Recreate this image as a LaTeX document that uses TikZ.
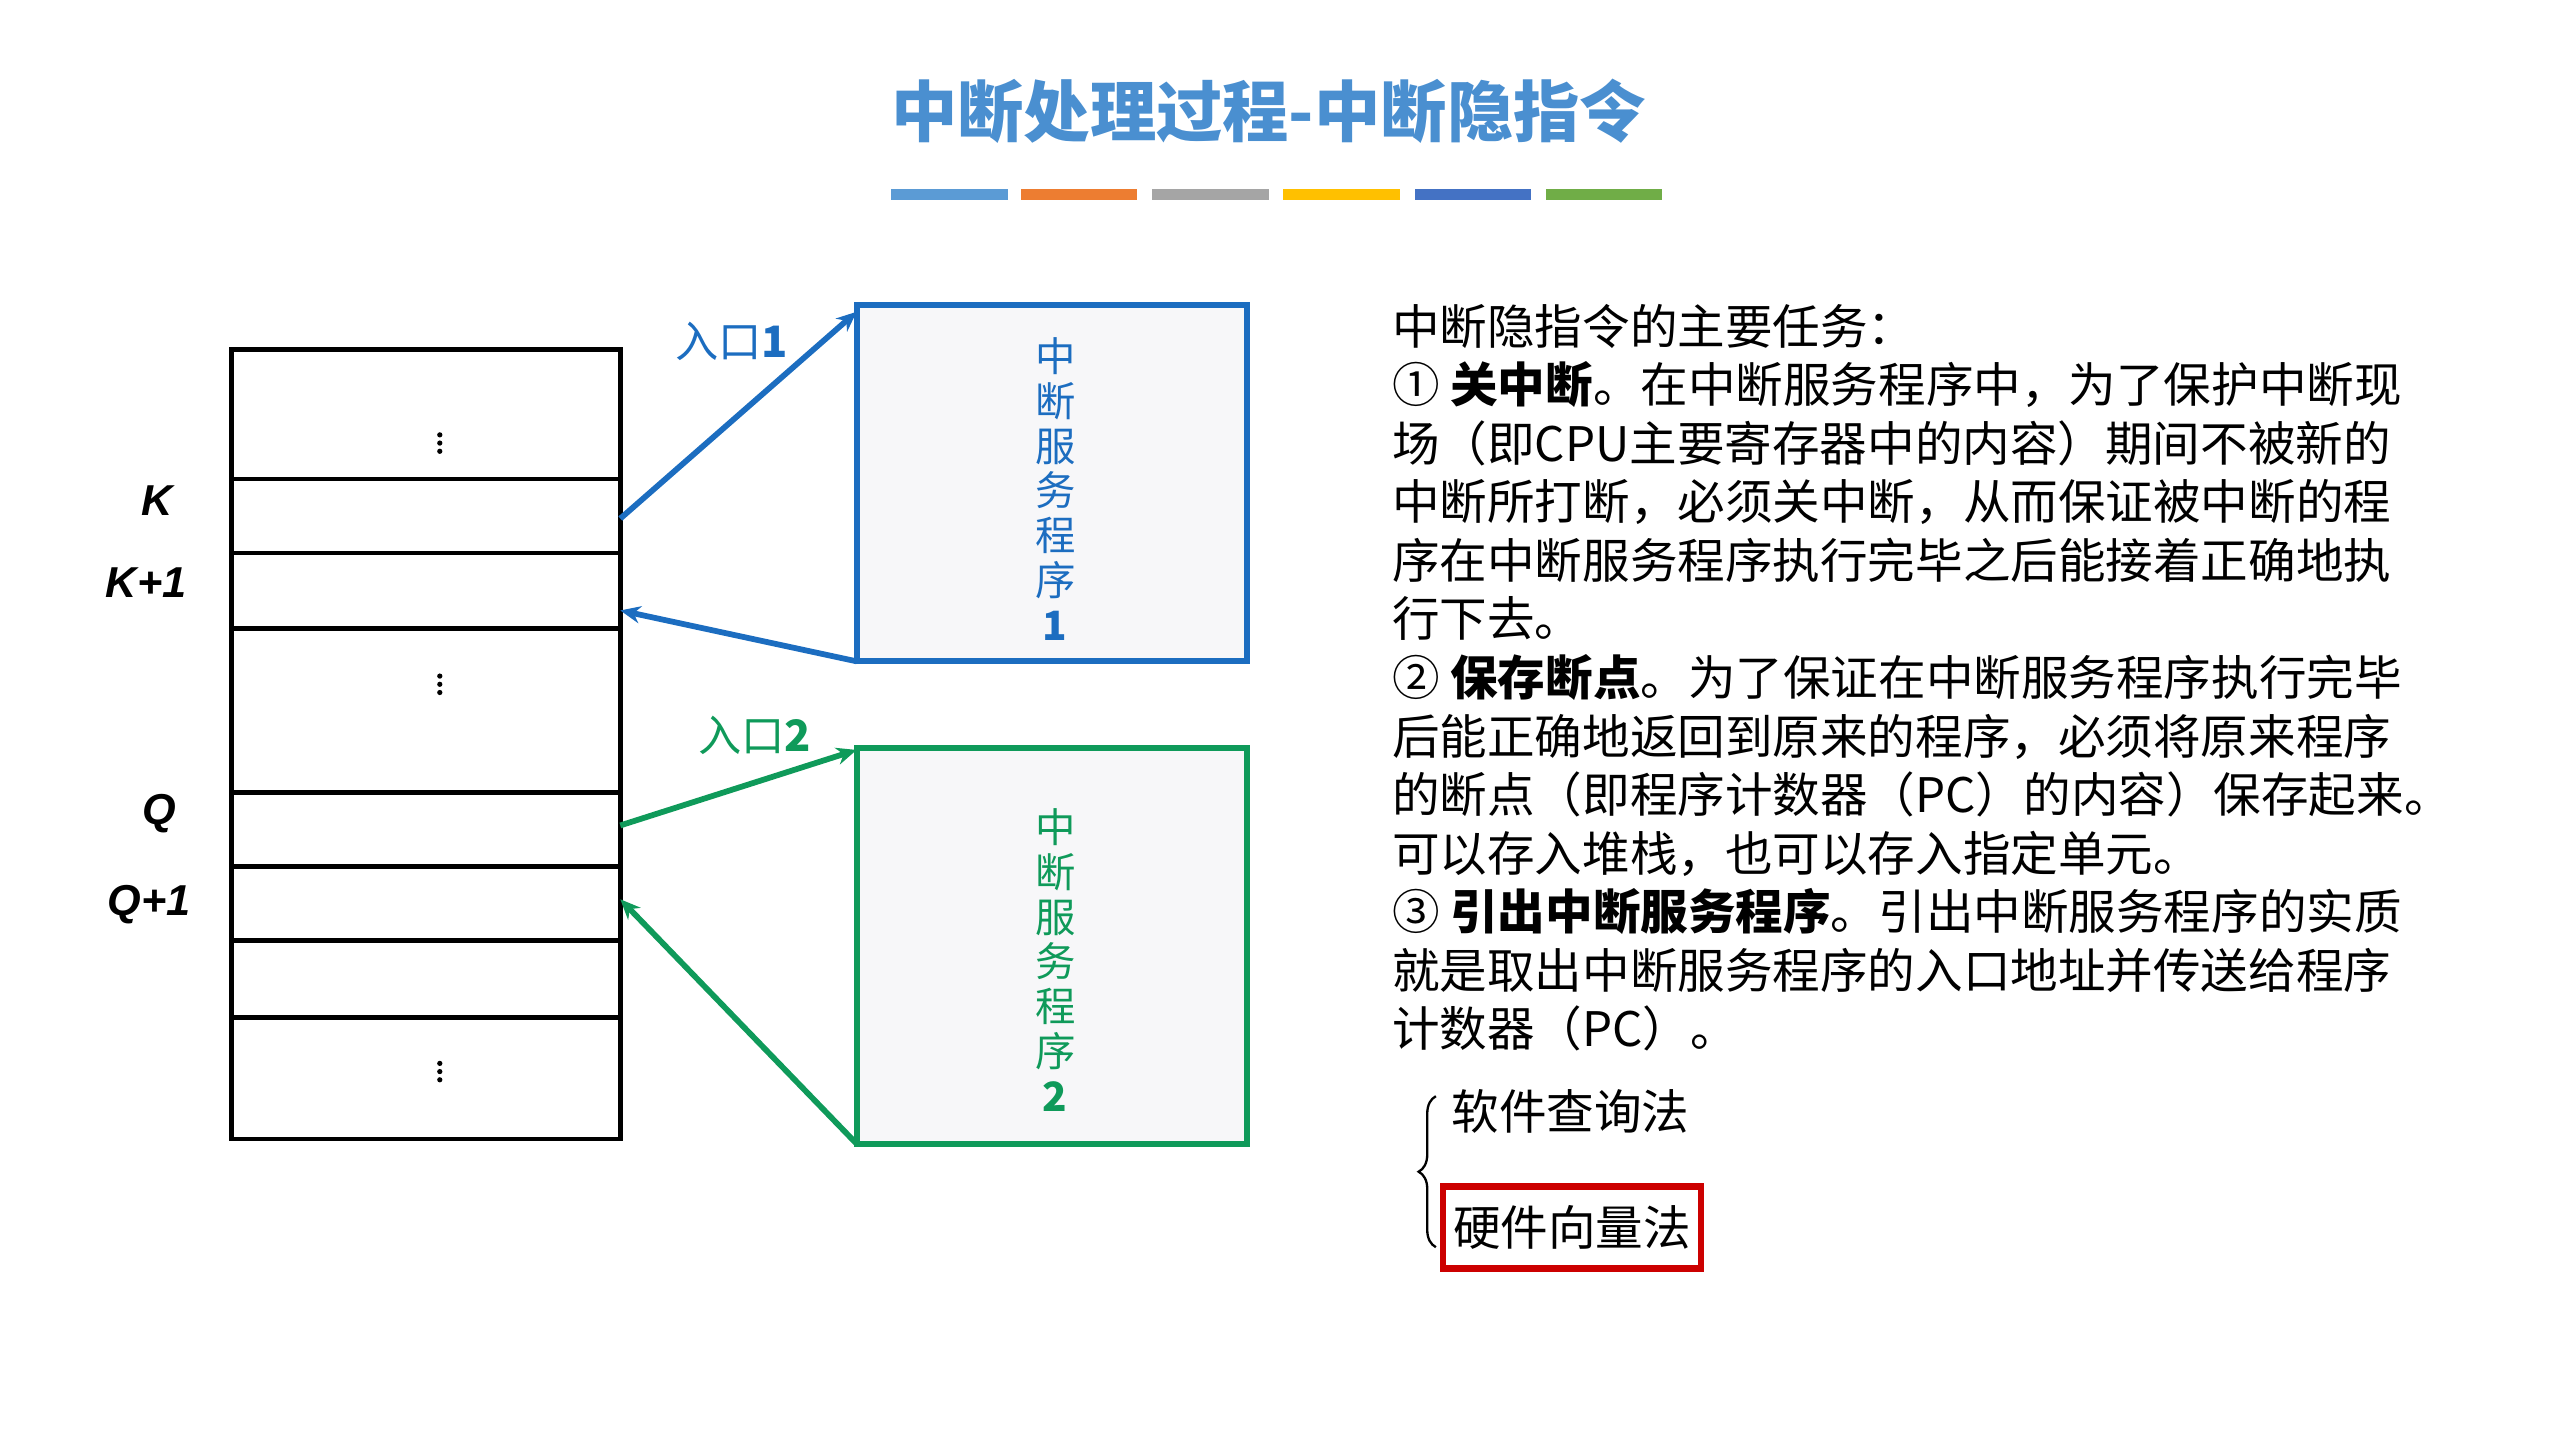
\documentclass[tikz,border=0pt]{standalone}
\usepackage{fontspec}
\setmainfont{Liberation Sans}
\newfontfamily\cjk{Noto Sans CJK SC}
\usetikzlibrary{arrows.meta,decorations.pathreplacing}
\definecolor{tblue}{HTML}{4A8FD0}
\definecolor{bblue}{HTML}{1C6DC0}
\definecolor{bgreen}{HTML}{0F9A5A}
\definecolor{b1}{HTML}{5B9BD5}
\definecolor{b2}{HTML}{ED7D31}
\definecolor{b3}{HTML}{A5A5A5}
\definecolor{b4}{HTML}{FFC000}
\definecolor{b5}{HTML}{4472C4}
\definecolor{b6}{HTML}{70AD47}
\definecolor{boxfill}{HTML}{F7F7F9}
\begin{document}
\begin{tikzpicture}[x=0.02cm,y=-0.02cm,
  mem/.style={draw=black,line width=1.6pt},
  lbl/.style={font=\bfseries\itshape\fontsize{15}{18}\selectfont},
  isr/.style={line width=2pt,fill=boxfill},
  vtxt/.style={font=\cjk\fontsize{14}{15.5}\selectfont,align=center},
  arr/.style={line width=2pt,-{Stealth[length=7pt,width=6pt]}},
  body/.style={font=\cjk\fontsize{16.5}{20.3}\selectfont,anchor=north west,align=left,inner sep=0pt}]
\useasboundingbox (0,0) rectangle (1560,878);
\node[font=\cjk\bfseries\fontsize{23}{26}\selectfont,text=tblue] (title) at (773,68) {中断处理过程-中断隐指令};
\foreach \c/\x in {b1/543,b2/622,b3/702,b4/782,b5/862,b6/942}
  \fill[\c] (\x,115) rectangle ++(71,7);
% memory
\draw[mem] (141,213) rectangle (378,694);
\foreach \y in {292,337,383,483,528,573,620} \draw[mem] (141,\y) -- (378,\y);
\foreach \y in {270,417,653} \foreach \d in {-5,0,5} \fill (268,\y+\d) circle (1.6);
\coordinate (kout) at (378,316);
\coordinate (kin) at (378,372);
\coordinate (qout) at (378,503);
\coordinate (qin) at (378,548);
\node[lbl] (K) at (96,305) {K};
\node[lbl] (K1) at (89,355) {K+1};
\node[lbl] (Q) at (97,496) {Q};
\node[lbl] (Q1) at (91,551) {Q+1};
% ISR boxes
\draw[isr,draw=bblue] (522,186) rectangle (760,403);
\node[vtxt,text=bblue] (t1) at (643,298) {中\\断\\服\\务\\程\\序\\\textbf{1}};
\draw[isr,draw=bgreen] (522,456) rectangle (760,697);
\node[vtxt,text=bgreen] (t2) at (643,585) {中\\断\\服\\务\\程\\序\\\textbf{2}};
\coordinate (e1) at (522,190);
\coordinate (r1) at (522,403);
\coordinate (e2) at (522,457);
\coordinate (r2) at (522,697);
\draw[arr,bblue] (kout) -- (e1);
\draw[arr,bblue] (r1) -- (kin);
\draw[arr,bgreen] (qout) -- (e2);
\draw[arr,bgreen] (r2) -- (qin);
\node[font=\cjk\fontsize{15}{18}\selectfont,text=bblue] (l1) at (446,208) {入口\textbf{1}};
\node[font=\cjk\fontsize{15}{18}\selectfont,text=bgreen] (l2) at (460,448) {入口\textbf{2}};
% text
\node[body] (txt) at (848,185) {中断隐指令的主要任务：\\
① \textbf{关中断}。在中断服务程序中，为了保护中断现\\
场（即CPU主要寄存器中的内容）期间不被新的\\
中断所打断，必须关中断，从而保证被中断的程\\
序在中断服务程序执行完毕之后能接着正确地执\\
行下去。\\
② \textbf{保存断点}。为了保证在中断服务程序执行完毕\\
后能正确地返回到原来的程序，必须将原来程序\\
的断点（即程序计数器（PC）的内容）保存起来。\\
可以存入堆栈，也可以存入指定单元。\\
③ \textbf{引出中断服务程序}。引出中断服务程序的实质\\
就是取出中断服务程序的入口地址并传送给程序\\
计数器（PC）。};
\node[font=\cjk\fontsize{16.5}{20}\selectfont] (s1) at (957,677) {软件查询法};
\node[font=\cjk\fontsize{16.5}{20}\selectfont,draw=red!80!black,line width=2.2pt,minimum width=3.14cm,minimum height=1cm] (s2) at (958,748) {硬件向量法};
\draw[decorate,decoration={brace,amplitude=6pt,mirror},line width=0.8pt] (875,668) -- (875,760);
\end{tikzpicture}
\end{document}
